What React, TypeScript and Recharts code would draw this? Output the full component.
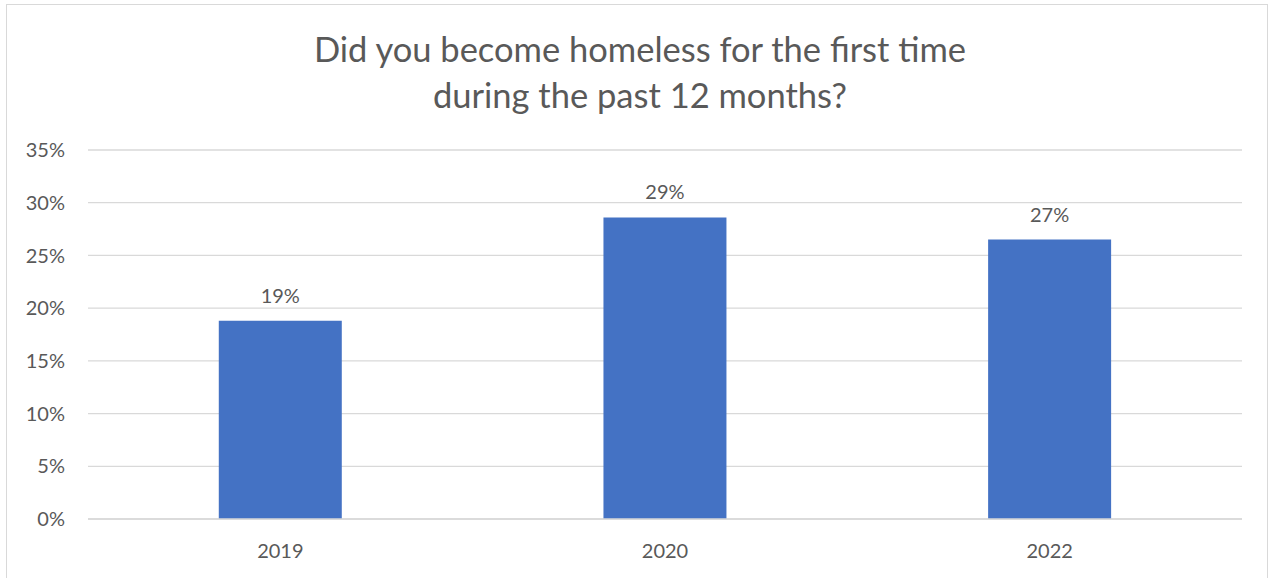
import { BarChart, Bar, XAxis, YAxis, CartesianGrid, LabelList } from 'recharts';

const years = ['2019', '2020', '2022'];
const firstTimeHomeless = [0.188, 0.286, 0.265];
const yTicks = [0, 0.05, 0.1, 0.15, 0.2, 0.25, 0.3, 0.35];
const titleLines = ['Did you become homeless for the first time', 'during the past 12 months?'];

const data = years.map((year, i) => ({ year, value: firstTimeHomeless[i] }));

const FONT = 'Lato, "Open Sans", sans-serif';
const TEXT = '#595959';

const pct = (v: number) => `${Math.round(v * 100)}%`;

const App = () => {
  return (
    <div style={{ position: 'absolute', left: 0, top: 0, width: 1271, height: 578, overflow: 'hidden', background: '#fff' }}>
      <div
        style={{
          position: 'absolute',
          left: 6,
          top: 4,
          width: 1262,
          height: 600,
          border: '1px solid #d9d9d9',
          boxSizing: 'border-box',
        }}
      />
      <svg style={{ position: 'absolute', left: 0, top: 0 }} width={1271} height={130}>
        {titleLines.map((line, i) => (
          <text
            key={line}
            x={640}
            y={62 + i * 46}
            textAnchor="middle"
            fontFamily={FONT}
            fontSize={34.5}
            fill={TEXT}
          >
            {line}
          </text>
        ))}
      </svg>
      <div style={{ position: 'absolute', left: 0, top: 0 }}>
        <BarChart
          width={1271}
          height={578}
          data={data}
          margin={{ top: 150, right: 29, bottom: 29, left: 0 }}
          barCategoryGap="34%"
        >
          <CartesianGrid vertical={false} stroke="#d9d9d9" strokeWidth={1.3} />
          <XAxis
            dataKey="year"
            height={30}
            axisLine={{ stroke: '#d9d9d9', strokeWidth: 1.3 }}
            tickLine={false}
            tickSize={0}
            tickMargin={25}
            tick={{ fill: TEXT, fontSize: 20, fontFamily: FONT }}
          />
          <YAxis
            width={88}
            domain={[0, 0.35]}
            ticks={yTicks}
            tickFormatter={pct}
            axisLine={false}
            tickLine={false}
            tickSize={0}
            tickMargin={23}
            tick={{ fill: TEXT, fontSize: 20, fontFamily: FONT }}
          />
          <Bar dataKey="value" fill="#4472C4" isAnimationActive={false}>
            <LabelList
              dataKey="value"
              position="top"
              offset={18}
              formatter={(v: any) => pct(Number(v))}
              style={{ fill: TEXT, fontSize: 20, fontFamily: FONT }}
            />
          </Bar>
        </BarChart>
      </div>
    </div>
  );
};

export default App;
